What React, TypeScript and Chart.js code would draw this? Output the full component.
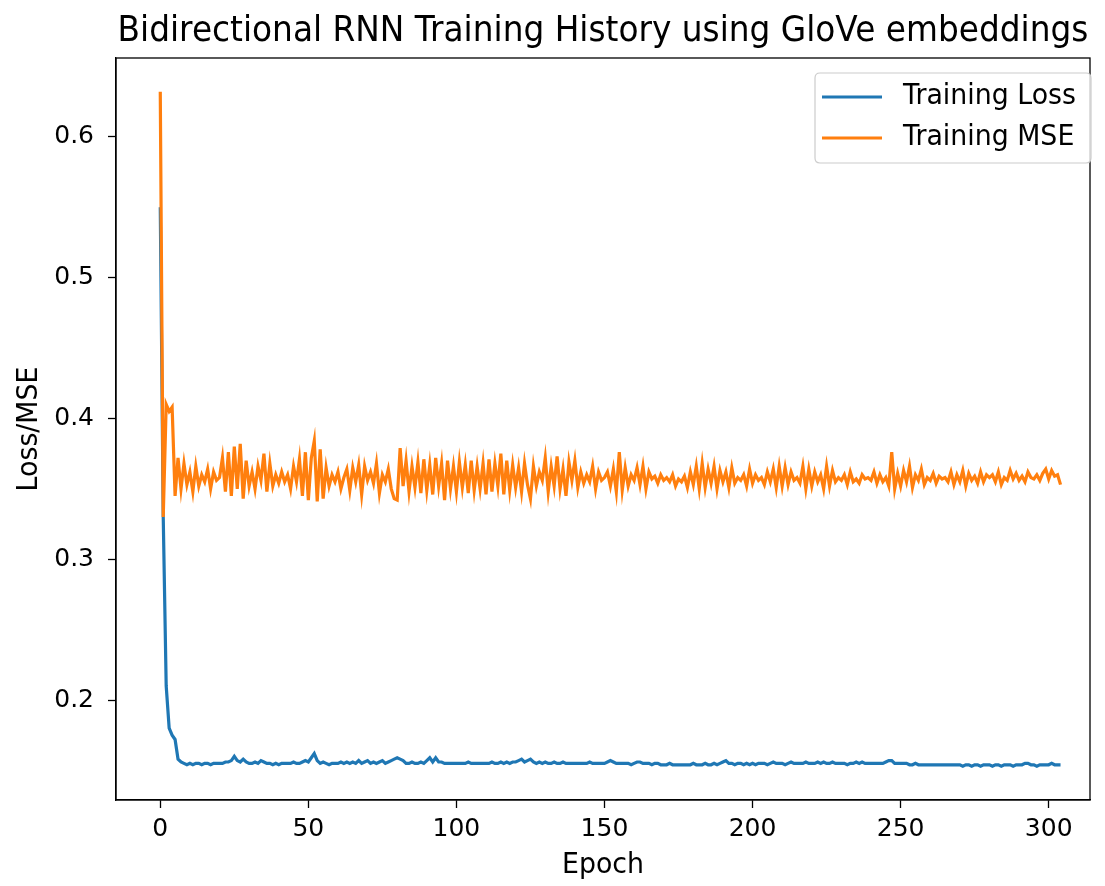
import React, { useEffect, useRef } from "react";
import { Chart, registerables } from "chart.js";

Chart.register(...registerables);

const TITLE = "Bidirectional RNN Training History using GloVe embeddings";
const X_LABEL = "Epoch";
const Y_LABEL = "Loss/MSE";
const SERIES_NAMES = ["Training Loss", "Training MSE"];
const X_TICKS = [0, 50, 100, 150, 200, 250, 300];
const Y_TICKS = [0.2, 0.3, 0.4, 0.5, 0.6];

const trainingLoss = [
  0.550, 0.330, 0.210, 0.180, 0.175, 0.172, 0.158, 0.156, 0.155, 0.154,
  0.155, 0.154, 0.155, 0.155, 0.154, 0.155, 0.155, 0.154, 0.155, 0.155,
  0.155, 0.155, 0.156, 0.156, 0.157, 0.160, 0.157, 0.156, 0.158, 0.156,
  0.155, 0.155, 0.156, 0.155, 0.157, 0.156, 0.155, 0.155, 0.154, 0.155,
  0.154, 0.155, 0.155, 0.155, 0.155, 0.156, 0.155, 0.155, 0.156, 0.157,
  0.156, 0.159, 0.162, 0.157, 0.155, 0.156, 0.155, 0.154, 0.155, 0.155,
  0.155, 0.156, 0.155, 0.156, 0.155, 0.156, 0.155, 0.157, 0.155, 0.156,
  0.157, 0.155, 0.156, 0.155, 0.156, 0.157, 0.155, 0.156, 0.157, 0.158,
  0.159, 0.158, 0.157, 0.155, 0.155, 0.156, 0.155, 0.155, 0.156, 0.155,
  0.157, 0.159, 0.156, 0.159, 0.156, 0.156, 0.155, 0.155, 0.155, 0.155,
  0.155, 0.155, 0.155, 0.155, 0.156, 0.155, 0.155, 0.155, 0.155, 0.155,
  0.155, 0.155, 0.156, 0.155, 0.155, 0.156, 0.155, 0.156, 0.155, 0.156,
  0.156, 0.157, 0.158, 0.156, 0.157, 0.158, 0.156, 0.155, 0.156, 0.155,
  0.156, 0.155, 0.155, 0.156, 0.155, 0.155, 0.156, 0.155, 0.155, 0.155,
  0.155, 0.155, 0.155, 0.155, 0.155, 0.156, 0.155, 0.155, 0.155, 0.155,
  0.155, 0.156, 0.157, 0.156, 0.155, 0.155, 0.155, 0.155, 0.155, 0.154,
  0.155, 0.156, 0.156, 0.155, 0.155, 0.155, 0.154, 0.155, 0.155, 0.154,
  0.154, 0.154, 0.155, 0.154, 0.154, 0.154, 0.154, 0.154, 0.154, 0.154,
  0.155, 0.154, 0.154, 0.154, 0.155, 0.154, 0.154, 0.155, 0.154, 0.155,
  0.156, 0.157, 0.155, 0.155, 0.154, 0.155, 0.155, 0.154, 0.155, 0.154,
  0.155, 0.154, 0.155, 0.155, 0.155, 0.154, 0.155, 0.156, 0.155, 0.155,
  0.155, 0.154, 0.155, 0.156, 0.155, 0.155, 0.155, 0.155, 0.156, 0.155,
  0.155, 0.155, 0.156, 0.155, 0.156, 0.155, 0.155, 0.156, 0.155, 0.155,
  0.155, 0.155, 0.154, 0.155, 0.155, 0.156, 0.155, 0.156, 0.155, 0.155,
  0.155, 0.155, 0.155, 0.155, 0.155, 0.156, 0.157, 0.157, 0.155, 0.155,
  0.155, 0.155, 0.155, 0.154, 0.154, 0.155, 0.154, 0.154, 0.154, 0.154,
  0.154, 0.154, 0.154, 0.154, 0.154, 0.154, 0.154, 0.154, 0.154, 0.154,
  0.154, 0.153, 0.154, 0.154, 0.153, 0.154, 0.154, 0.153, 0.154, 0.154,
  0.154, 0.153, 0.154, 0.154, 0.153, 0.154, 0.154, 0.154, 0.153, 0.154,
  0.154, 0.154, 0.155, 0.155, 0.154, 0.154, 0.153, 0.154, 0.154, 0.154,
  0.154, 0.155, 0.154, 0.154, 0.154,
];

const trainingMse = [
  0.632, 0.330, 0.410, 0.405, 0.408, 0.345, 0.372, 0.350, 0.368, 0.353,
  0.362, 0.348, 0.366, 0.352, 0.360, 0.355, 0.364, 0.350, 0.362, 0.356,
  0.358, 0.372, 0.348, 0.376, 0.345, 0.380, 0.350, 0.382, 0.343, 0.370,
  0.352, 0.362, 0.350, 0.366, 0.356, 0.375, 0.348, 0.368, 0.352, 0.360,
  0.354, 0.362, 0.355, 0.360, 0.350, 0.366, 0.355, 0.371, 0.345, 0.376,
  0.342, 0.372, 0.384, 0.341, 0.378, 0.343, 0.365, 0.352, 0.360, 0.355,
  0.362, 0.350, 0.358, 0.364, 0.349, 0.365, 0.355, 0.367, 0.346, 0.366,
  0.356, 0.362, 0.354, 0.368, 0.347, 0.360, 0.355, 0.364, 0.350, 0.343,
  0.342, 0.379, 0.352, 0.370, 0.348, 0.366, 0.351, 0.369, 0.347, 0.371,
  0.349, 0.367, 0.346, 0.372, 0.352, 0.368, 0.342, 0.370, 0.350, 0.366,
  0.348, 0.369, 0.351, 0.367, 0.347, 0.370, 0.349, 0.366, 0.350, 0.368,
  0.346, 0.371, 0.348, 0.368, 0.352, 0.375, 0.346, 0.370, 0.349, 0.367,
  0.351, 0.365, 0.348, 0.368, 0.353, 0.343, 0.366, 0.352, 0.362, 0.356,
  0.372, 0.348, 0.366, 0.352, 0.373, 0.350, 0.364, 0.345, 0.369, 0.356,
  0.370, 0.351, 0.362, 0.354, 0.360, 0.355, 0.366, 0.350, 0.362, 0.356,
  0.358, 0.362, 0.352, 0.364, 0.348, 0.376, 0.349, 0.365, 0.352, 0.360,
  0.356, 0.365, 0.353, 0.366, 0.350, 0.362, 0.357, 0.359, 0.354, 0.360,
  0.356, 0.358, 0.355, 0.360, 0.352, 0.357, 0.355, 0.359, 0.351, 0.362,
  0.353, 0.366, 0.350, 0.368, 0.351, 0.364, 0.354, 0.366, 0.350, 0.363,
  0.355, 0.362, 0.351, 0.365, 0.354, 0.358, 0.356, 0.360, 0.352, 0.364,
  0.354, 0.360, 0.356, 0.358, 0.353, 0.362, 0.355, 0.364, 0.351, 0.366,
  0.352, 0.365, 0.353, 0.362, 0.356, 0.358, 0.354, 0.366, 0.350, 0.364,
  0.352, 0.362, 0.355, 0.360, 0.350, 0.366, 0.352, 0.363, 0.355, 0.358,
  0.356, 0.360, 0.353, 0.362, 0.355, 0.357, 0.354, 0.360, 0.357, 0.358,
  0.356, 0.362, 0.354, 0.360, 0.355, 0.358, 0.352, 0.376, 0.350, 0.361,
  0.352, 0.363, 0.355, 0.366, 0.351, 0.360, 0.356, 0.364, 0.353, 0.358,
  0.356, 0.361, 0.354, 0.359, 0.357, 0.358, 0.355, 0.362, 0.353, 0.360,
  0.355, 0.363, 0.352, 0.361, 0.356, 0.359, 0.354, 0.362, 0.355, 0.360,
  0.358, 0.360, 0.355, 0.362, 0.353, 0.358, 0.356, 0.363, 0.357, 0.361,
  0.356, 0.359, 0.355, 0.362, 0.358, 0.357, 0.360, 0.356, 0.361, 0.364,
  0.357, 0.363, 0.359, 0.360, 0.353,
];

const COLORS = ["#1f77b4", "#ff7f0e"];
const FONT = "'DejaVu Sans', sans-serif";
const VSTRETCH = 1.07;

function stretchedText(ctx: any, text: string, x: number, y: number) {
  ctx.save();
  ctx.translate(x, y);
  ctx.scale(1, VSTRETCH);
  ctx.fillText(text, 0, 0);
  ctx.restore();
}

const decorPlugin = {
  id: "decor",
  afterDraw(chart: any) {
    const { ctx, chartArea } = chart;
    const { left, right, top, bottom } = chartArea;
    ctx.save();
    ctx.strokeStyle = "#000";
    ctx.lineWidth = 1.3;
    ctx.strokeRect(left, top, right - left, bottom - top);
    ctx.fillStyle = "#000";
    ctx.font = `32.8px ${FONT}`;
    ctx.textAlign = "center";
    ctx.textBaseline = "middle";
    stretchedText(ctx, TITLE, (left + right) / 2, 32);
    ctx.font = `26.8px ${FONT}`;
    stretchedText(ctx, X_LABEL, (left + right) / 2, 866);
    ctx.save();
    ctx.translate(30, (top + bottom) / 2);
    ctx.rotate(-Math.PI / 2);
    ctx.scale(1, 1.03);
    ctx.fillText(Y_LABEL, 0, 0);
    ctx.restore();
    // legend
    const lx = 815, ly = 73, lw = 276, lh = 90, r = 5;
    ctx.beginPath();
    ctx.moveTo(lx + r, ly);
    ctx.lineTo(lx + lw - r, ly);
    ctx.quadraticCurveTo(lx + lw, ly, lx + lw, ly + r);
    ctx.lineTo(lx + lw, ly + lh - r);
    ctx.quadraticCurveTo(lx + lw, ly + lh, lx + lw - r, ly + lh);
    ctx.lineTo(lx + r, ly + lh);
    ctx.quadraticCurveTo(lx, ly + lh, lx, ly + lh - r);
    ctx.lineTo(lx, ly + r);
    ctx.quadraticCurveTo(lx, ly, lx + r, ly);
    ctx.closePath();
    ctx.fillStyle = "rgba(255,255,255,0.8)";
    ctx.fill();
    ctx.strokeStyle = "#cccccc";
    ctx.lineWidth = 1.2;
    ctx.stroke();
    const rows = [97, 138];
    SERIES_NAMES.forEach((name, i) => {
      ctx.strokeStyle = COLORS[i];
      ctx.lineWidth = 3.2;
      ctx.beginPath();
      ctx.moveTo(822, rows[i]);
      ctx.lineTo(882, rows[i]);
      ctx.stroke();
      ctx.fillStyle = "#000";
      ctx.font = `26.8px ${FONT}`;
      ctx.textAlign = "left";
      ctx.textBaseline = "middle";
      stretchedText(ctx, name, 903, rows[i]);
    });
    ctx.restore();
  },
};

export default function App() {
  const ref = useRef<HTMLCanvasElement | null>(null);
  useEffect(() => {
    if (!ref.current) return;
    const epochs = trainingLoss.map((_, i) => i);
    const chart = new Chart(ref.current, {
      type: "line",
      data: {
        datasets: [
          {
            label: SERIES_NAMES[0],
            data: epochs.map((e) => ({ x: e, y: trainingLoss[e] })),
            borderColor: COLORS[0],
            backgroundColor: COLORS[0],
            borderWidth: 3.2,
            pointRadius: 0,
            tension: 0,
            order: 1,
          },
          {
            label: SERIES_NAMES[1],
            data: epochs.map((e) => ({ x: e, y: trainingMse[e] })),
            borderColor: COLORS[1],
            backgroundColor: COLORS[1],
            borderWidth: 3.2,
            pointRadius: 0,
            tension: 0,
            order: 0,
          },
        ],
      },
      options: {
        responsive: false,
        animation: false,
        devicePixelRatio: 1,
        layout: { padding: { top: 58, right: 15, left: 0, bottom: 0 } },
        plugins: {
          legend: { display: false },
          title: { display: false },
          tooltip: { enabled: false },
        },
        scales: {
          x: {
            type: "linear",
            min: -14.95,
            max: 313.95,
            afterBuildTicks: (s: any) => {
              s.ticks = X_TICKS.map((v) => ({ value: v }));
            },
            afterFit: (s: any) => {
              s.height = 86;
            },
            ticks: {
              font: { family: FONT, size: 25 },
              color: "#000",
              padding: 6,
              maxRotation: 0,
              autoSkip: false,
              callback: (v: any) => String(v),
            },
            grid: { drawOnChartArea: false, tickLength: 8, color: "#000", tickWidth: 1.3 },
            border: { color: "#000", width: 1.3 },
          },
          y: {
            type: "linear",
            min: 0.129,
            max: 0.656,
            afterBuildTicks: (s: any) => {
              s.ticks = Y_TICKS.map((v) => ({ value: v }));
            },
            afterFit: (s: any) => {
              s.width = 116;
            },
            ticks: {
              font: { family: FONT, size: 25 },
              color: "#000",
              padding: 14,
              autoSkip: false,
              callback: (v: any) => Number(v).toFixed(1),
            },
            grid: { drawOnChartArea: false, tickLength: 8, color: "#000", tickWidth: 1.3 },
            border: { color: "#000", width: 1.3 },
          },
        },
      },
      plugins: [decorPlugin],
    });
    return () => chart.destroy();
  }, []);
  return (
    <div style={{ position: "fixed", left: 0, top: 0, width: 1105, height: 886, background: "#fff" }}>
      <canvas ref={ref} width={1105} height={886} />
    </div>
  );
}
